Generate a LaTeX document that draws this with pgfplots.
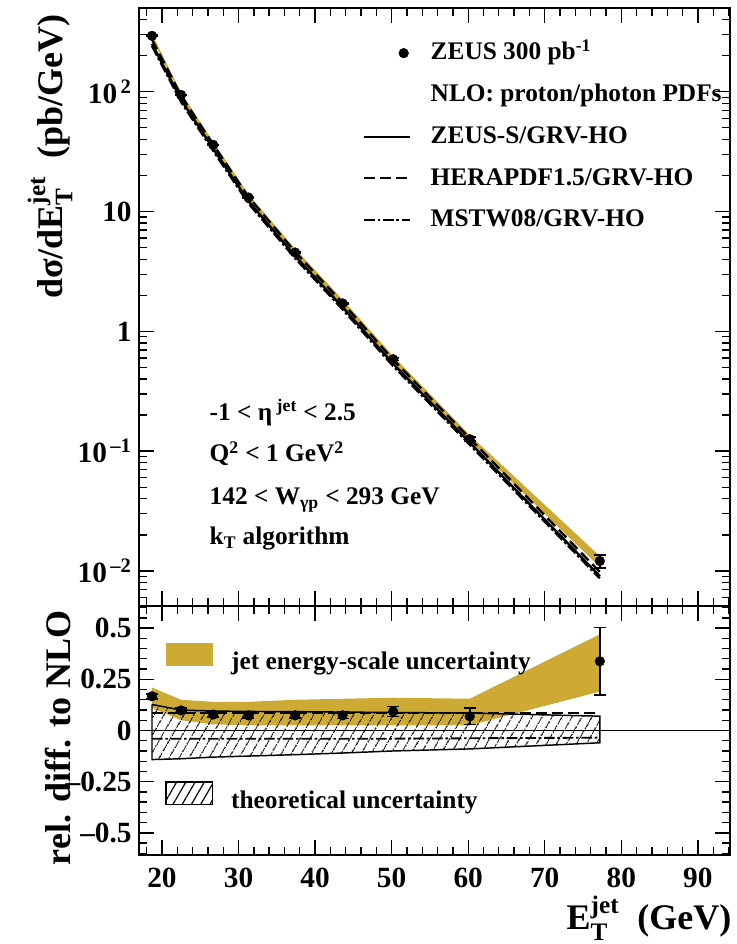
\documentclass[border=0pt]{standalone}
\usepackage{pgfplots}
\pgfplotsset{compat=1.18}
\usepackage{pgfplotstable}
\usepackage{amsmath}
\usepackage{fontspec}
\setmainfont{Liberation Serif}
\usetikzlibrary{patterns.meta}
\definecolor{jes}{RGB}{204,170,51}

% Cross sections (pb/GeV) per E_T^jet bin
\pgfplotstableread{
x     data    stat     nlo      hera     mstw
18.7  293     3.0      251      272.3    241
22.5  94      1.0      85.6     92.9     82.2
26.7  36      0.4      33.4     36.2     32.1
31.3  13.1    0.15     12.2     13.24    11.71
37.4  4.55    0.06     4.24     4.60     4.07
43.6  1.71    0.025    1.59     1.725    1.526
50.2  0.585   0.015    0.535    0.580    0.514
60.2  0.126   0.005    0.118    0.128    0.1133
77.2  0.0121  0.0015   0.00904  0.00981  0.00868
}\xsec

% Relative difference to the ZEUS-S NLO prediction
\pgfplotstableread{
x     rel     err     hera    mstw
18.7  0.167   0.012   0.085   -0.04
22.5  0.098   0.012   0.085   -0.04
26.7  0.078   0.012   0.085   -0.04
31.3  0.074   0.012   0.085   -0.04
37.4  0.074   0.012   0.085   -0.04
43.6  0.074   0.015   0.085   -0.04
50.2  0.093   0.025   0.085   -0.04
60.2  0.069   0.04    0.085   -0.038
77.2  0.338   0.165   0.085   -0.035
}\ratio

\tikzset{txt/.style={font=\fontsize{19}{23}\selectfont\bfseries}}

\pgfplotsset{
  zeus/.style={
    scale only axis, width=443.25pt,
    xmin=17, xmax=94.2,
    xtick={20,30,40,50,60,70,80,90},
    minor xtick={18,22,24,26,28,32,34,36,38,42,44,46,48,52,54,56,58,62,64,66,68,72,74,76,78,82,84,86,88,92,94},
    major tick length=11pt, minor tick length=6pt,
    tick style={black, line width=1pt},
    axis line style={line width=1.1pt},
    tick label style={font=\fontsize{22}{26}\selectfont\bfseries},
    yticklabel style={xshift=-2pt},
    legend cell align=left,
  },
  lineleg/.style={legend image code/.code={\draw[##1] (0pt,0pt) -- (34pt,0pt);}},
  heraline/.style={dash pattern=on 8pt off 4pt},
  mstwline/.style={dash pattern=on 8pt off 2pt on 2pt off 2pt},
  zeuspts/.style={black, only marks, mark=*, mark size=3.6pt, forget plot,
    error bars/.cd, y dir=both, y explicit, error mark=-,
    error bar style={line width=1.2pt},
    error mark options={rotate=90, mark size=4.5pt, line width=1.2pt}},
}

\begin{document}
\begin{tikzpicture}

% ---------- upper panel: cross section ----------
\begin{axis}[zeus,
  at={(104.25pt,253.5pt)}, anchor=south west, height=448.5pt,
  ymode=log, ymin=0.0051, ymax=500,
  xticklabels={},
  ytick={0.01,0.1,1,10,100},
  yticklabels={10\textsuperscript{\,--2},10\textsuperscript{\,--1},1,10,10\textsuperscript{\,2}},
  minor ytick={0.006,0.007,0.008,0.009,0.02,0.03,0.04,0.05,0.06,0.07,0.08,0.09,
    0.2,0.3,0.4,0.5,0.6,0.7,0.8,0.9,2,3,4,5,6,7,8,9,20,30,40,50,60,70,80,90,200,300,400},
  legend style={draw=none, fill=none, at={(0.379,0.945)}, anchor=north west,
    inner sep=0pt, row sep=13.3pt, txt,
    nodes={text height=14pt, text depth=4pt, inner sep=0pt},
    /tikz/every odd column/.append style={column sep=15pt}},
]
% jet energy-scale band around the data
\addplot[fill=jes, draw=none, forget plot] coordinates {
  (18.7,303.7) (22.5,98.4) (26.7,38.1) (31.3,13.9) (37.4,4.88) (43.6,1.84)
  (50.2,0.621) (60.2,0.1363) (77.2,0.01329)
  (77.2,0.01076) (60.2,0.121) (50.2,0.548) (43.6,1.63) (37.4,4.35)
  (31.3,12.5) (26.7,34.4) (22.5,89.9) (18.7,278.6)};
\addplot[black, line width=1.8pt, forget plot] table[x=x, y=nlo] {\xsec};
\addplot[black, line width=1.8pt, heraline, forget plot] table[x=x, y=hera] {\xsec};
\addplot[black, line width=1.8pt, mstwline, forget plot] table[x=x, y=mstw] {\xsec};
\addplot[zeuspts] table[x=x, y=data, y error=stat] {\xsec};

\addlegendimage{black, only marks, mark=*, mark size=3.6pt,
  legend image post style={xshift=21pt}}
\addlegendentry{ZEUS 300 pb$^{\text{-1}}$}
\addlegendimage{empty legend}
\addlegendentry{NLO: proton/photon PDFs}
\addlegendimage{black, line width=1.6pt, lineleg}
\addlegendentry{ZEUS-S/GRV-HO}
\addlegendimage{black, line width=1.6pt, heraline, lineleg}
\addlegendentry{HERAPDF1.5/GRV-HO}
\addlegendimage{black, line width=1.6pt, mstwline, lineleg}
\addlegendentry{MSTW08/GRV-HO}

\node[txt, anchor=base west] at (rel axis cs:0.1117,0.311) {-1 < η$^{\text{ jet}}$ < 2.5};
\node[txt, anchor=base west] at (rel axis cs:0.1117,0.2408) {Q$^{\text{2}}$ < 1 GeV$^{\text{2}}$};
\node[txt, anchor=base west] at (rel axis cs:0.1117,0.1689) {142 < W$_{\text{γp}}$ < 293 GeV};
\node[txt, anchor=base west] at (rel axis cs:0.1117,0.102) {k$_{\text{T}}$ algorithm};
\end{axis}

% ---------- lower panel: relative difference ----------
\begin{axis}[zeus,
  at={(104.25pt,66.75pt)}, anchor=south west, height=186.75pt,
  ymin=-0.608, ymax=0.608,
  xticklabels={20,30,40,50,60,70,80,90},
  xticklabel style={yshift=-6pt},
  ytick={-0.5,-0.25,0,0.25,0.5},
  yticklabels={--0.5,--0.25,0,0.25,0.5},
  minor ytick={-0.6,-0.55,-0.45,-0.4,-0.35,-0.3,-0.2,-0.15,-0.1,-0.05,0.05,0.1,0.15,0.2,0.3,0.35,0.4,0.45,0.55,0.6},
  legend style={draw=none, fill=none, at={(0.044,0.852)}, anchor=north west,
    inner sep=0pt, row sep=79.5pt, txt,
    nodes={text height=14pt, text depth=4pt, inner sep=0pt},
    /tikz/every odd column/.append style={column sep=13.5pt}},
]
\addplot[fill=jes, draw=none,
  legend image code/.code={\fill[jes] (0pt,-2pt) rectangle (35pt,15pt);}]
  coordinates {
  (18.7,0.21) (22.5,0.15) (26.7,0.14) (31.3,0.14) (37.4,0.15) (43.6,0.155)
  (50.2,0.16) (60.2,0.155) (77.2,0.47)
  (77.2,0.19) (60.2,0.025) (50.2,0.025) (43.6,0.025) (37.4,0.025)
  (31.3,0.025) (26.7,0.03) (22.5,0.05) (18.7,0.11)};
\addlegendentry{jet energy-scale uncertainty}
\addplot[black, line width=0.8pt, forget plot] coordinates {(17,0) (94.2,0)};
\addplot[draw=black, line width=1.1pt,
  pattern={Lines[angle=60, distance=6.5pt, line width=0.9pt]},
  legend image code/.code={\draw[black, line width=1.3pt,
    pattern={Lines[angle=60, distance=6pt, line width=0.9pt]}] (0pt,-2pt) rectangle (35pt,15pt);}]
  coordinates {
  (18.7,0.127) (22.5,0.10) (26.7,0.095) (31.3,0.093) (37.4,0.092) (43.6,0.09)
  (50.2,0.088) (60.2,0.085) (77.2,0.07)
  (77.2,-0.06) (60.2,-0.09) (50.2,-0.10) (43.6,-0.11) (37.4,-0.118)
  (31.3,-0.125) (26.7,-0.13) (22.5,-0.138) (18.7,-0.142) (18.7,0.127)};
\addlegendentry{theoretical uncertainty}
\addplot[black, line width=1.4pt, heraline, forget plot] table[x=x, y=hera] {\ratio};
\addplot[black, line width=1.4pt, mstwline, forget plot] table[x=x, y=mstw] {\ratio};
\addplot[zeuspts] table[x=x, y=rel, y error=err] {\ratio};
\end{axis}

% axis titles
\node[rotate=90, anchor=base east, font=\fontsize{27}{32}\selectfont\bfseries]
  at (46.5pt,700.5pt) {dσ/dE$^{\text{jet}}_{\text{T}}$\ \ (pb/GeV)};
\node[rotate=90, anchor=base east, font=\fontsize{27}{32}\selectfont\bfseries]
  at (52.5pt,253.5pt) {rel. diff. to NLO};
\node[anchor=base east, font=\fontsize{27}{32}\selectfont\bfseries]
  at (552pt,10.5pt) {E$^{\text{jet}}_{\text{T}}$\ \ (GeV)};

\pgfresetboundingbox
\path (0pt,0pt) rectangle (552pt,708pt);
\end{tikzpicture}
\end{document}
